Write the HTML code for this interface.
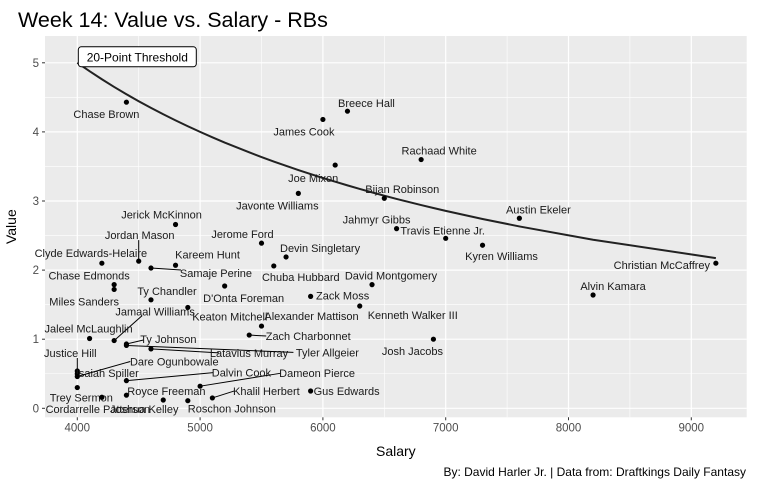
<!DOCTYPE html>
<html><head><meta charset="utf-8"><style>
body{margin:0;background:#fff;}
svg{display:block;font-family:"Liberation Sans",Arial,sans-serif;}
</style></head><body>
<svg id="chart" width="761" height="488"></svg>
<script>
const players = ["Chase Brown","Breece Hall","James Cook","Joe Mixon","Rachaad White","Javonte Williams","Bijan Robinson","Jahmyr Gibbs","Travis Etienne Jr.","Kyren Williams","Austin Ekeler","Christian McCaffrey","Alvin Kamara","Josh Jacobs","Kenneth Walker III","David Montgomery","Zack Moss","Alexander Mattison","Keaton Mitchell","Zach Charbonnet","D'Onta Foreman","Chuba Hubbard","Devin Singletary","Jerome Ford","Jerick McKinnon","Jordan Mason","Clyde Edwards-Helaire","Kareem Hunt","Samaje Perine","Chase Edmonds","Miles Sanders","Ty Chandler","Jamaal Williams","Jaleel McLaughlin","Ty Johnson","Latavius Murray","Tyler Allgeier","Justice Hill","Isaiah Spiller","Dare Ogunbowale","Dalvin Cook","Dameon Pierce","Trey Sermon","Cordarrelle Patterson","Royce Freeman","Joshua Kelley","Roschon Johnson","Khalil Herbert","Gus Edwards"];
const salaries = [4400,6200,6000,6100,6800,5800,6500,6600,7000,7300,7600,9200,8200,6900,6300,6400,5900,5500,4900,5400,5200,5600,5700,5500,4800,4500,4200,4800,4600,4300,4300,4600,4300,4100,4400,4600,4400,4000,4000,4000,4400,5000,4000,4200,4400,4700,4900,5100,5900];
const values = [4.43,4.30,4.18,3.52,3.60,3.11,3.04,2.60,2.46,2.36,2.75,2.10,1.64,1.00,1.48,1.79,1.62,1.19,1.46,1.06,1.77,2.06,2.19,2.39,2.66,2.13,2.10,2.07,2.03,1.79,1.72,1.57,0.98,1.01,0.93,0.86,0.91,0.54,0.50,0.46,0.40,0.32,0.30,0.16,0.19,0.12,0.11,0.15,0.25];
const thresholdSalaries = [4000,4100,4200,4300,4400,4500,4600,4700,4800,4900,5000,5100,5200,5400,5500,5600,5700,5800,5900,6000,6100,6200,6300,6400,6500,6600,6800,6900,7000,7300,7600,8200,9200];
const thresholdValues = [5.000,4.878,4.762,4.651,4.545,4.444,4.348,4.255,4.167,4.082,4.000,3.922,3.846,3.704,3.636,3.571,3.509,3.448,3.390,3.333,3.279,3.226,3.175,3.125,3.077,3.030,2.941,2.899,2.857,2.740,2.632,2.439,2.174];
const xTicks = [4000,5000,6000,7000,8000,9000];
const yTicks = [0,1,2,3,4,5];
// label offsets (pixels, styling)
const labelOff = [[-20,12],[19,-8],[-19,12],[-22,13],[18,-9],[-21,12],[18,-9],[-20,-9],[-3,-8],[19,11],[19,-9],[-54,2],[20,-9],[-21,12],[53,9],[19,-9],[32,-1],[50,-10],[42,9],[59,1],[19,12],[27,11],[34,-9],[-19,-9],[-14,-10],[1,-26],[-11,-10],[32,-11],[65,5],[-25,-9],[-30,12],[16,-9],[41,-29],[-1,-10],[42,-5],[98,4],[201,7],[-7,-18],[30,-1],[97,-15],[115,-8],[117,-13],[4,10],[-4,12],[40,-4],[-19,9],[44,8],[54,-7],[36,0]];
const leaders = {19:[17,1],25:[0,-21],28:[30,2],32:[28,-25],34:[17,-4],35:[68,4],36:[167,7],37:[0,-13],39:[53,-15],40:[87,-8],41:[81,-13],47:[22,-7]};

const NS="http://www.w3.org/2000/svg";
const svg=document.getElementById('chart');
const L=45,R=746.7,T=36,B=417.3;
const xs=v=>77.3+(v-4000)*0.1228;
const ys=v=>408.3-v*69.1;
function el(tag,attrs,parent){const e=document.createElementNS(NS,tag);for(const k in attrs)e.setAttribute(k,attrs[k]);(parent||svg).appendChild(e);return e;}

const title=el('text',{x:18,y:27,'font-size':21.5,fill:'#000'});


title.textContent='Week 14: Value vs. Salary - RBs';

const panel=el('rect',{x:L,y:T,width:R-L,height:B-T,fill:'#ebebeb'});



for(let i=0;i<xTicks.length;i++){
  const xm=xs(xTicks[i]-500);
  if(xm>L){const g=el('line',{x1:xm,x2:xm,y1:T,y2:B,stroke:'#fff','stroke-width':0.6});}
}
{const xm=xs(9500);if(xm<R){el('line',{x1:xm,x2:xm,y1:T,y2:B,stroke:'#fff','stroke-width':0.6});}}
for(let i=0;i<yTicks.length;i++){
  const ym=ys(yTicks[i]+0.5);
  if(ym>T){const g=el('line',{x1:L,x2:R,y1:ym,y2:ym,stroke:'#fff','stroke-width':0.6});}
}
xTicks.forEach(t=>{
  const x=xs(t);
  const g=el('line',{x1:x,x2:x,y1:T,y2:B,stroke:'#fff','stroke-width':1.2});
  
  
  el('line',{x1:x,x2:x,y1:B,y2:B+3,stroke:'#333','stroke-width':1});
  const tx=el('text',{x:x,y:B+14,'font-size':11.5,fill:'#4d4d4d','text-anchor':'middle'});
  
  
  tx.textContent=t;
});
yTicks.forEach(t=>{
  const y=ys(t);
  const g=el('line',{x1:L,x2:R,y1:y,y2:y,stroke:'#fff','stroke-width':1.2});
  
  
  el('line',{x1:L-3,x2:L,y1:y,y2:y,stroke:'#333','stroke-width':1});
  const ty=el('text',{x:L-6,y:y+4,'font-size':11.5,fill:'#4d4d4d','text-anchor':'end'});
  
  
  ty.textContent=t;
});

const pts=thresholdSalaries.map((s,i)=>xs(s)+','+ys(thresholdValues[i])).join(' ');
const tl=el('polyline',{points:pts,fill:'none',stroke:'#222','stroke-width':2});



const bx=xs(thresholdSalaries[0]), by=ys(thresholdValues[0]);
const box=el('rect',{x:bx+1,y:by-16,width:118,height:20,rx:3,fill:'#fff',stroke:'#000','stroke-width':1});


const bt=el('text',{x:bx+60,y:by-1.5,'font-size':12,'text-anchor':'middle',fill:'#000'});


bt.textContent='20-Point Threshold';

for(let i=0;i<players.length;i++){
  const px=xs(salaries[i]), py=ys(values[i]);
  if(leaders[i]){
    const ln=el('line',{x1:px,y1:py,x2:px+leaders[i][0],y2:py+leaders[i][1],stroke:'#000','stroke-width':1});
    
    
  }
  const c=el('circle',{cx:px,cy:py,r:2.6,fill:'#000'});
  
  
  const t=el('text',{x:px+labelOff[i][0],y:py+labelOff[i][1]+4,'font-size':11,'text-anchor':'middle',fill:'#1a1a1a'});
  
  
  t.textContent=players[i];
}

const xl=el('text',{x:(L+R)/2,y:456,'font-size':14,'text-anchor':'middle',fill:'#000'});


xl.textContent='Salary';
const yl=el('text',{x:0,y:0,'font-size':14,'text-anchor':'middle',fill:'#000',transform:'translate(16,'+((T+B)/2)+') rotate(-90)'});


yl.textContent='Value';
const cap=el('text',{x:746,y:476,'font-size':12,'text-anchor':'end',fill:'#000'});


cap.textContent='By: David Harler Jr. | Data from: Draftkings Daily Fantasy';
</script>
</body></html>
